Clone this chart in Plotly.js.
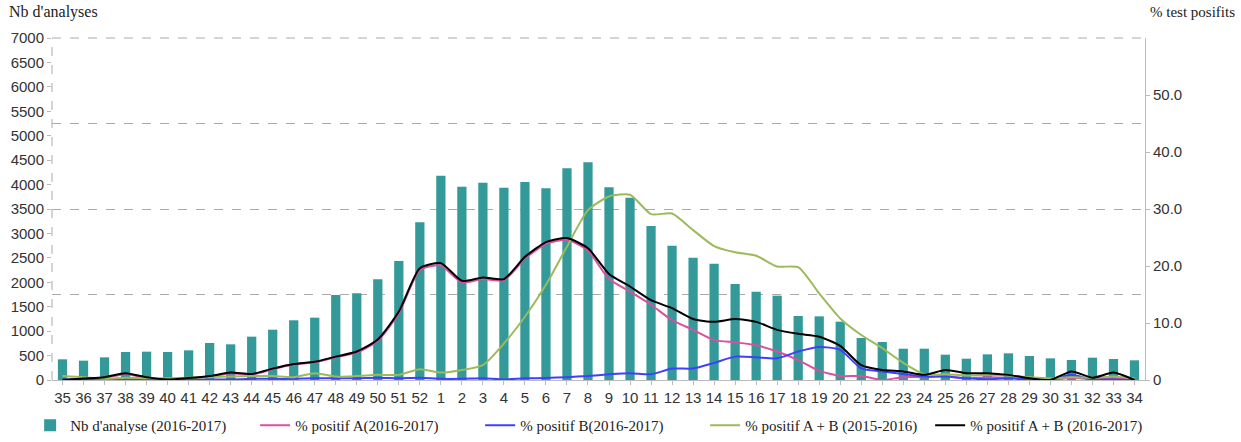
<!DOCTYPE html>
<html>
<head>
<meta charset="utf-8">
<script src="https://cdn.plot.ly/plotly-3.0.1.min.js"></script>
<style>html,body{margin:0;padding:0;background:#fff;}#chart{width:1241px;height:442px;}</style>
</head>
<body>
<div id="chart"></div>
<script>
const weeks = ["35","36","37","38","39","40","41","42","43","44","45","46","47","48","49","50","51","52",
  "1","2","3","4","5","6","7","8","9","10","11","12","13","14","15","16","17","18","19","20",
  "21","22","23","24","25","26","27","28","29","30","31","32","33","34"];

const nbAnalyse = [423,396,464,573,580,573,607,757,730,887,1030,1222,1276,1740,1774,2061,2436,3228,
  4182,3957,4039,3937,4053,3924,4333,4456,3944,3732,3152,2750,2504,2381,1965,1808,1726,1310,1303,1194,
  860,778,641,641,518,436,525,546,491,443,409,457,430,403];

const pctA = [0,0.2,0.4,1.0,0.4,0.1,0.3,0.6,1.2,0.95,1.9,2.7,3.1,4.0,4.8,6.9,11.7,19.3,
  20.1,17.1,17.7,17.5,21.3,23.9,24.6,22.7,17.7,15.5,13.2,10.5,8.8,7.0,6.6,6.1,5.0,3.5,1.6,0.7,
  0.7,0,0.5,0.5,0.7,0.3,0.5,0.4,0.1,0,0.4,0.1,0.3,0];

const pctB = [0.1,0.1,0.1,0.2,0.1,0.1,0.1,0.1,0.1,0.2,0.2,0.2,0.3,0.3,0.3,0.4,0.3,0.4,
  0.2,0.2,0.3,0.1,0.3,0.35,0.5,0.7,1.0,1.2,1.0,2.0,2.0,3.0,4.1,4.0,3.8,5.0,5.8,5.3,
  2.05,1.5,1.05,0.6,0.6,0.3,0.1,0.3,0.1,0,0.9,0.1,0.1,0];

const pctAB1516 = [0.7,0.5,0.2,0.4,0.3,0.3,0.4,0.5,0.6,0.7,0.7,0.5,1.2,0.6,0.7,0.9,0.9,1.9,
  1.3,1.75,2.6,6.4,11.1,16.7,23.4,29.8,32.2,32.5,29.1,29.2,26.3,23.5,22.4,21.8,19.9,19.8,15.2,10.8,
  7.9,5.6,3.0,1.0,1.0,0.8,0.9,0.8,0.5,0.3,0.5,0.4,0.6,0.3];

const pctAB1617 = [0,0.25,0.5,1.2,0.5,0.1,0.35,0.7,1.3,1.05,2.0,2.8,3.2,4.1,5.0,7.1,12.0,19.6,
  20.5,17.4,18.0,17.7,21.6,24.2,24.9,23.1,18.6,16.4,14.0,12.6,10.7,10.2,10.7,10.2,8.8,8.1,7.6,6.0,
  2.6,1.75,1.5,0.9,1.75,1.2,1.2,0.9,0.3,0,1.5,0.4,1.3,0];

const leftTicks = [0,500,1000,1500,2000,2500,3000,3500,4000,4500,5000,5500,6000,6500,7000];
const rightTickVals = [0,10,20,30,40,50];
const rightTickText = ["0","10.0","20.0","30.0","40.0","50.0"];

const names = ["Nb d'analyse (2016-2017)","% positif A(2016-2017)","% positif B(2016-2017)",
  "% positif A + B (2015-2016)","% positif A + B (2016-2017)"];

const lineStyle = (c) => ({color: c, width: 2, shape: 'spline', smoothing: 0.6});

const traces = [
  {type:'bar', x: weeks, y: nbAnalyse, name: names[0], marker:{color:'#339999'}, yaxis:'y'},
  {type:'scatter', mode:'lines', x: weeks, y: pctA, name: names[1], line: lineStyle('#d9509f'), yaxis:'y2'},
  {type:'scatter', mode:'lines', x: weeks, y: pctB, name: names[2], line: lineStyle('#3f3fff'), yaxis:'y2'},
  {type:'scatter', mode:'lines', x: weeks, y: pctAB1516, name: names[3], line: lineStyle('#9bbb59'), yaxis:'y2'},
  {type:'scatter', mode:'lines', x: weeks, y: pctAB1617, name: names[4], line: lineStyle('#000000'), yaxis:'y2'},
  {type:'scatter', mode:'lines', x: [], y: [], yaxis:'y3', showlegend:false, hoverinfo:'skip'}
];

const tickFont = {family:'Liberation Sans, Arial, sans-serif', size:15, color:'#333'};
const serif = 'Liberation Serif, Times New Roman, serif';
const frameDash = {color:'#aaa', width:1, dash:'dash'};

const layout = {
  width: 1241, height: 442,
  margin: {l:52, r:96, t:38, b:62, autoexpand:false},
  paper_bgcolor:'#fff', plot_bgcolor:'rgba(0,0,0,0)',
  showlegend: true,
  bargap: 0.56,
  xaxis: {type:'category', tickfont: tickFont, showline:true, linecolor:'#bbb', linewidth:1,
    ticks:'outside', ticklen:4, tickcolor:'#bbb', showgrid:false, zeroline:false, tickangle:0,
    automargin:false},
  yaxis: {range:[0,7000], tickvals: leftTicks, tickfont: tickFont, showgrid:false, zeroline:false,
    showline:false, ticks:'outside', ticklen:4, tickcolor:'#bbb', automargin:false},
  yaxis2: {range:[0,60], overlaying:'y', side:'right', tickvals: rightTickVals, ticktext: rightTickText,
    tickfont: tickFont, showgrid:false, zeroline:false, showline:true, linecolor:'#bbb',
    ticks:'outside', ticklen:4, tickcolor:'#bbb', automargin:false},
  yaxis3: {range:[0,60.02], overlaying:'y', dtick:15, showgrid:true, gridcolor:'#aaa', griddash:'dash',
    gridwidth:1, showticklabels:false, zeroline:false, showline:false, ticks:''},
  shapes: [
    {type:'line', xref:'paper', yref:'paper', x0:0, x1:1, y0:1, y1:1, line: frameDash, layer:'below'},
    {type:'line', xref:'paper', yref:'paper', x0:0, x1:0, y0:0, y1:1, line: frameDash, layer:'below'}
  ],
  legend: {orientation:'h', xref:'paper', x:-0.02, xanchor:'left', yref:'paper', y:-0.085, yanchor:'top',
    font:{family: serif, size:15, color:'#222'}, itemwidth:30, entrywidth:180, entrywidthmode:'pixels',
    tracegroupgap:0, traceorder:'normal', bgcolor:'rgba(0,0,0,0)'},
  annotations: [
    {text:"Nb d'analyses", xref:'paper', yref:'paper', x:-0.041, y:1.076, xanchor:'left', yanchor:'middle',
      showarrow:false, font:{family: serif, size:16, color:'#222'}},
    {text:"% test posifits", xref:'paper', yref:'paper', x:1.084, y:1.076, xanchor:'right', yanchor:'middle',
      showarrow:false, font:{family: serif, size:15, color:'#222'}}
  ]
};

Plotly.newPlot('chart', traces, layout, {displayModeBar:false, staticPlot:true});
</script>
</body>
</html>
